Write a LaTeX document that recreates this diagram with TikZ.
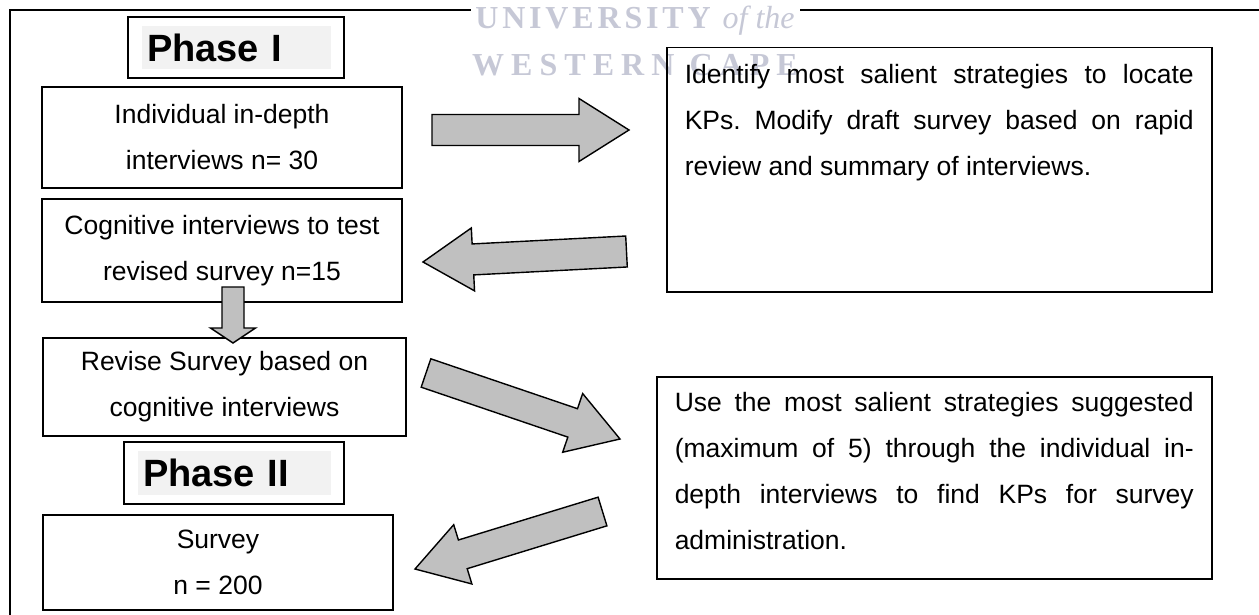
\documentclass[tikz,border=0pt]{standalone}
\usepackage{fontspec}
\setmainfont{Liberation Sans}
\newfontfamily\wmfont[LetterSpace=12]{Liberation Serif}
\newfontfamily\wmplain{Liberation Serif}
\usetikzlibrary{calc}
\frenchspacing

\definecolor{arrowgrey}{RGB}{192,192,192}
\definecolor{phasegrey}{RGB}{242,242,242}
\definecolor{wmgrey}{RGB}{198,200,214}

\newcommand{\bodyfont}{\fontsize{26.5}{46}\selectfont}
\newcommand{\phasefont}{\fontsize{38}{40}\selectfont\bfseries}
% tail, tip, shaft half width, head half width, head length
\newcommand{\blockarrow}[5]{%
  \coordinate (hb) at ($(#2)!#5!(#1)$);
  \draw[garrow] ($(#1)!#3!90:(#2)$) -- ($(hb)!#3!90:(#2)$) -- ($(hb)!#4!90:(#2)$) -- (#2)
    -- ($(hb)!#4!-90:(#2)$) -- ($(hb)!#3!-90:(#2)$) -- ($(#1)!#3!-90:(#2)$) -- cycle;
}

\tikzset{
  stage/.style={draw, line width=1.5pt, align=center, font=\bodyfont, inner sep=0pt},
  note/.style={draw, line width=1.5pt, anchor=north west, inner xsep=18pt, inner ysep=0pt, font=\bodyfont},
  phase/.style={draw, line width=1.5pt, align=left, inner xsep=19pt, inner ysep=0pt, font=\phasefont,
    path picture={\fill[phasegrey] ($(path picture bounding box.north west)+(14,9)$)
      rectangle ($(path picture bounding box.south east)+(-13,-9)$);}},
  garrow/.style={draw, line width=1.4pt, fill=arrowgrey, line join=miter},
  watermark/.style={fill=white, text=wmgrey, inner sep=0pt, align=center, minimum width=329pt,
    font={\wmfont\fontsize{32}{47}\selectfont}},
  frame/.style={line width=2pt}
}

\begin{document}
\begin{tikzpicture}[x=1pt,y=-1pt]
\useasboundingbox (0,0) rectangle (1259,615);

\draw[frame] (1259,10) -- (10,10) -- (10,615);
\node[watermark] (uwc) at (635,40.6) {{\bfseries UNIVERSITY} {\wmplain\itshape of the}\\
  {\addfontfeatures{LetterSpace=22}\bfseries WESTERN CAPE}};

% left column
\node[phase, minimum width=216pt, minimum height=61pt, text width=178pt] (ph1) at (236,47.5) {Phase I};
\node[stage, minimum width=360pt, minimum height=101pt] (indiv) at (222,137.5) {Individual in-depth\\interviews n= 30};
\node[stage, minimum width=360pt, minimum height=103pt] (cogn) at (222,250.5) {Cognitive interviews to test\\revised survey n=15};
\node[stage, minimum width=363pt, minimum height=98pt] (revise) at (224.5,387) {Revise Survey based on\\cognitive interviews};
\node[phase, minimum width=220pt, minimum height=62pt, text width=182pt] (ph2) at (234,473) {Phase II};
\node[stage, minimum width=350pt, minimum height=95pt] (survey) at (218,562.5) {Survey\\n = 200};

% right column
\node[note] (salient) at (666,47) {\parbox[c][244pt][t]{509pt}{\rule{0pt}{36pt}Identify most salient strategies to locate\linebreak
  KPs. Modify draft survey based on rapid\linebreak review and summary of interviews.}};
\node[note] (use) at (656,376) {\parbox[c][202pt][t]{519pt}{\rule{0pt}{35pt}Use the most salient strategies suggested\linebreak
  (maximum of 5) through the individual in-\linebreak depth interviews to find KPs for survey\linebreak administration.}};

% arrows
\coordinate (a1s) at (432,130);   \coordinate (a1e) at (629,130);
\coordinate (a2s) at (626.5,251.5); \coordinate (a2e) at (423,262);
\coordinate (a3s) at (426,373);   \coordinate (a3e) at (620,439);
\coordinate (a4s) at (602.5,511.5); \coordinate (a4e) at (415,569);
\coordinate (dns) at (233,287);   \coordinate (dne) at (233,343);

\blockarrow{a1s}{a1e}{15.5pt}{31.5pt}{50pt}
\blockarrow{a2s}{a2e}{15.5pt}{31.5pt}{50pt}
\blockarrow{a3s}{a3e}{15pt}{31pt}{50pt}
\blockarrow{a4s}{a4e}{15pt}{31pt}{50pt}
\blockarrow{dns}{dne}{11pt}{22.5pt}{15pt}

\end{tikzpicture}
\end{document}
